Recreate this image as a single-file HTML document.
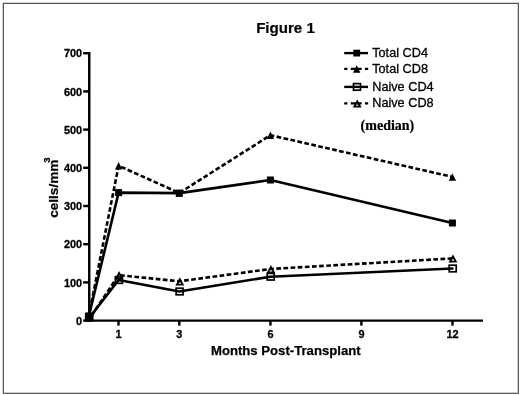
<!DOCTYPE html>
<html><head><meta charset="utf-8"><title>Figure 1</title>
<style>
html,body{margin:0;padding:0;background:#fff;}
body{width:520px;height:395px;overflow:hidden;}
svg{display:block;will-change:transform;}
text{font-family:"Liberation Sans",sans-serif;fill:#000;}
.b{font-weight:bold;}
.tk{font-weight:bold;font-size:11.2px;stroke:#000;stroke-width:0.3px;}
.lg{font-size:12.6px;stroke:#000;stroke-width:0.3px;}
</style></head><body>
<svg width="520" height="395" viewBox="0 0 520 395">
<rect x="3.35" y="3.35" width="515" height="389.95" fill="none" stroke="#505050" stroke-width="1.2"/>

<text class="b" x="285.5" y="33.1" font-size="15.1" text-anchor="middle" stroke="#000" stroke-width="0.2">Figure 1</text>
<g stroke="#000" stroke-width="2.45" fill="none">
<path d="M89.25 51.9 V321.8"/>
<path d="M88 320.6 H483"/>
<path d="M83.2 320.6 H89"/>
<path d="M83.2 282.4 H89"/>
<path d="M83.2 244.2 H89"/>
<path d="M83.2 206.0 H89"/>
<path d="M83.2 167.8 H89"/>
<path d="M83.2 129.6 H89"/>
<path d="M83.2 91.4 H89"/>
<path d="M83.2 53.2 H89"/>
<path d="M118.50 320.6 V325.6"/>
<path d="M179.30 320.6 V325.6"/>
<path d="M270.45 320.6 V325.6"/>
<path d="M361.40 320.6 V325.6"/>
<path d="M452.50 320.6 V325.6"/>
</g>
<text class="tk" transform="translate(82.1 324.8) scale(0.975 1.04)" text-anchor="end">0</text>
<text class="tk" transform="translate(82.1 286.6) scale(0.975 1.04)" text-anchor="end">100</text>
<text class="tk" transform="translate(82.1 248.4) scale(0.975 1.04)" text-anchor="end">200</text>
<text class="tk" transform="translate(82.1 210.2) scale(0.975 1.04)" text-anchor="end">300</text>
<text class="tk" transform="translate(82.1 172.0) scale(0.975 1.04)" text-anchor="end">400</text>
<text class="tk" transform="translate(82.1 133.8) scale(0.975 1.04)" text-anchor="end">500</text>
<text class="tk" transform="translate(82.1 95.6) scale(0.975 1.04)" text-anchor="end">600</text>
<text class="tk" transform="translate(82.1 57.4) scale(0.975 1.04)" text-anchor="end">700</text>
<text class="tk" transform="translate(118.5 337.6) scale(0.975 1.04)" text-anchor="middle">1</text>
<text class="tk" transform="translate(179.3 337.6) scale(0.975 1.04)" text-anchor="middle">3</text>
<text class="tk" transform="translate(270.4 337.6) scale(0.975 1.04)" text-anchor="middle">6</text>
<text class="tk" transform="translate(361.4 337.6) scale(0.975 1.04)" text-anchor="middle">9</text>
<text class="tk" transform="translate(452.5 337.6) scale(0.975 1.04)" text-anchor="middle">12</text>
<text class="b" x="285.8" y="355.3" font-size="13.15" text-anchor="middle" stroke="#000" stroke-width="0.25">Months Post-Transplant</text>
<text class="b" transform="translate(58 217.8) rotate(-90)" font-size="13.6" stroke="#000" stroke-width="0.25">cells/mm<tspan font-size="9.6" dx="-3.2" dy="-8">3</tspan></text>
<g fill="none" stroke="#000" stroke-width="2.6" stroke-linejoin="round">
<polyline points="88.9,315.9 118.6,192.6 179.3,193.1 270.4,180.0 452.4,223.0" stroke-linecap="round"/>
<polyline points="88.9,318.4 118.6,280.0 179.3,291.5 270.4,276.7 452.4,268.5" stroke-linecap="round"/>
<polyline points="88.9,315.4 118.6,165.7 179.3,193.0 270.4,135.2 452.4,176.9" stroke-dasharray="4.7 2.42" stroke-dashoffset="-5.9"/>
<polyline points="88.9,319.6 118.6,275.1 179.3,281.3 270.4,269.0 452.4,258.4" stroke-dasharray="4.7 2.45" stroke-dashoffset="-5.0"/>
</g>
<rect x="85.40" y="312.40" width="7.0" height="7.0" fill="#000"/>
<rect x="115.10" y="189.10" width="7.0" height="7.0" fill="#000"/>
<rect x="175.80" y="189.60" width="7.0" height="7.0" fill="#000"/>
<rect x="266.90" y="176.50" width="7.0" height="7.0" fill="#000"/>
<rect x="448.90" y="219.50" width="7.0" height="7.0" fill="#000"/>
<path d="M88.90 311.65 L92.55 319.15 L85.25 319.15 Z" fill="#000"/>
<path d="M118.60 161.95 L122.25 169.45 L114.95 169.45 Z" fill="#000"/>
<path d="M179.30 189.25 L182.95 196.75 L175.65 196.75 Z" fill="#000"/>
<path d="M270.40 131.45 L274.05 138.95 L266.75 138.95 Z" fill="#000"/>
<path d="M452.40 173.15 L456.05 180.65 L448.75 180.65 Z" fill="#000"/>
<rect x="85.70" y="314.00" width="7.0" height="6.6" fill="none" stroke="#000" stroke-width="1.7"/>
<rect x="115.40" y="276.70" width="7.0" height="6.6" fill="none" stroke="#000" stroke-width="1.7"/>
<rect x="176.10" y="288.20" width="7.0" height="6.6" fill="none" stroke="#000" stroke-width="1.7"/>
<rect x="267.20" y="273.40" width="7.0" height="6.6" fill="none" stroke="#000" stroke-width="1.7"/>
<rect x="449.20" y="265.20" width="7.0" height="6.6" fill="none" stroke="#000" stroke-width="1.7"/>
<path d="M89.40 314.90 L92.30 320.30 L86.50 320.30 Z" fill="none" stroke="#000" stroke-width="1.8" stroke-linejoin="miter"/>
<path d="M119.10 273.00 L122.00 278.40 L116.20 278.40 Z" fill="none" stroke="#000" stroke-width="1.8" stroke-linejoin="miter"/>
<path d="M179.80 279.20 L182.70 284.60 L176.90 284.60 Z" fill="none" stroke="#000" stroke-width="1.8" stroke-linejoin="miter"/>
<path d="M270.90 266.90 L273.80 272.30 L268.00 272.30 Z" fill="none" stroke="#000" stroke-width="1.8" stroke-linejoin="miter"/>
<path d="M452.90 256.30 L455.80 261.70 L450.00 261.70 Z" fill="none" stroke="#000" stroke-width="1.8" stroke-linejoin="miter"/>
<g stroke="#000" stroke-width="2.4" fill="none">
<path d="M344.2 53.1 H368.0"/>
<path d="M344.2 86.9 H368.0"/>
<path d="M344.2 68.9 H347.4 M350.8 68.9 H361.6 M364.9 68.9 H368.2"/>
<path d="M344.2 103.4 H347.4 M350.8 103.4 H361.6 M364.9 103.4 H368.2"/>
</g>
<rect x="353.30" y="49.70" width="6.8" height="6.8" fill="#000"/>
<path d="M356.70 65.15 L360.35 72.65 L353.05 72.65 Z" fill="#000"/>
<rect x="353.50" y="83.60" width="7.0" height="6.6" fill="none" stroke="#000" stroke-width="1.7"/>
<path d="M357.20 101.30 L360.10 106.70 L354.30 106.70 Z" fill="none" stroke="#000" stroke-width="1.8" stroke-linejoin="miter"/>
<text class="lg" transform="translate(372.2 57.1) scale(1.01 1.08)">Total CD4</text>
<text class="lg" transform="translate(372.2 72.9) scale(1.01 1.08)">Total CD8</text>
<text class="lg" transform="translate(372.2 90.9) scale(1.01 1.08)">Naive CD4</text>
<text class="lg" transform="translate(372.2 107.4) scale(1.01 1.08)">Naive CD8</text>
<text x="360.6" y="129.6" font-size="14" stroke="#000" stroke-width="0.2" style="font-family:'Liberation Serif',serif;font-weight:bold">(median)</text>
</svg></body></html>
